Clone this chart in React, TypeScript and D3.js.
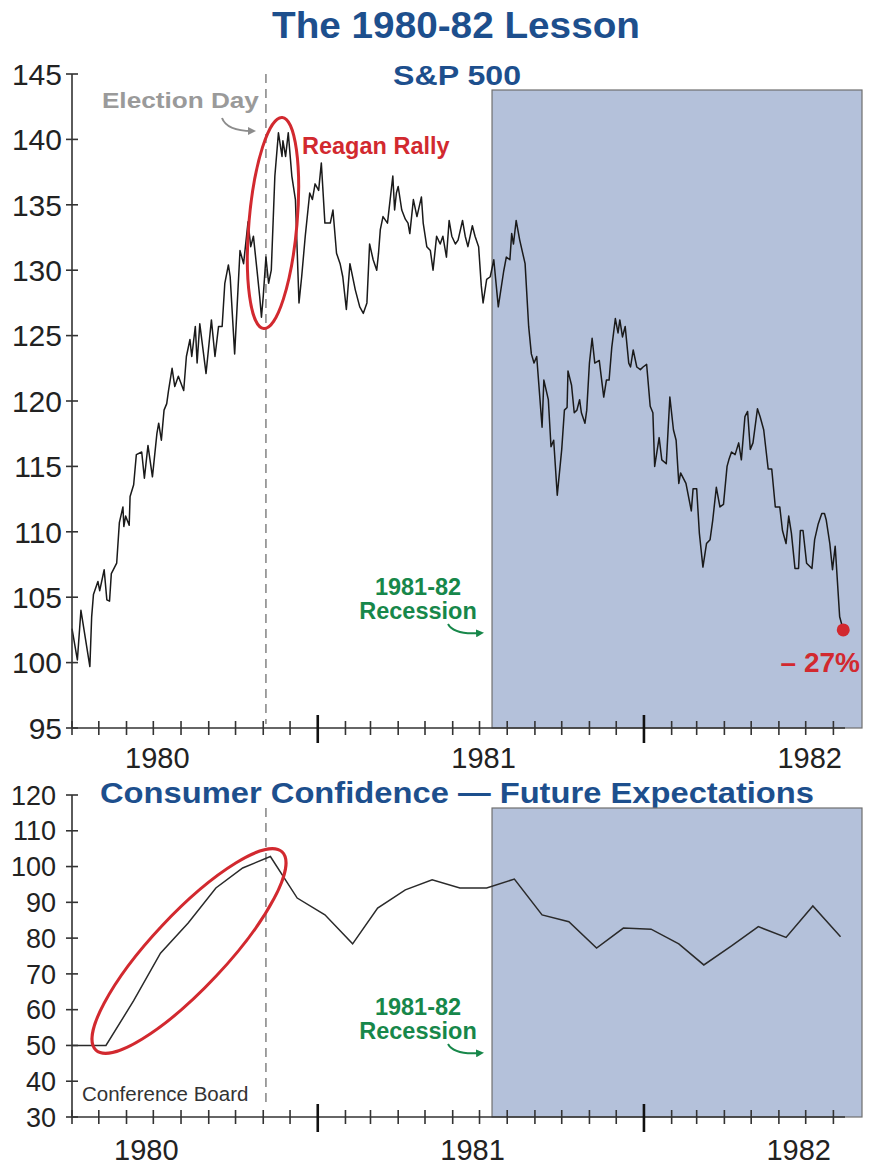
import React from 'react';
import * as d3 from 'd3';

// S&P 500 (day offset from 1 Apr 1980, index value)
const spDays = [
  0, 6, 10, 20, 22, 24, 29, 31, 36, 39, 42, 44, 50, 53, 57, 58, 60, 64, 65, 69,
  72, 78, 81, 85, 90, 95, 97, 100, 103, 106, 108, 112, 115, 119, 125, 128, 132, 134, 138, 140,
  143, 150, 156, 160, 164, 168, 171, 175, 177, 182, 188, 192, 197, 200, 203, 207, 210, 212, 214, 217,
  220, 223, 227, 231, 235, 236, 239, 242, 246, 250, 254, 257, 261, 266, 269, 272, 276, 279, 283, 289,
  292, 296, 300, 303, 307, 311, 317, 322, 326, 330, 333, 337, 341, 343, 345, 348, 353, 356, 359, 361,
  363, 365, 369, 373, 376, 378, 382, 386, 391, 393, 397, 401, 404, 408, 412, 415, 419, 422, 425, 429,
  432, 437, 440, 443, 448, 451, 455, 458, 460, 464, 468, 472, 477, 483, 486, 490, 492, 494, 497, 501,
  507, 511, 514, 517, 520, 526, 528, 533, 536, 539, 543, 548, 551, 554, 555, 559, 562, 565, 568, 570,
  574, 576, 579, 582, 585, 590, 595, 598, 601, 604, 608, 611, 613, 616, 619, 623, 625, 628, 632, 636,
  639, 643, 647, 650, 652, 657, 660, 665, 669, 673, 676, 679, 681, 687, 693, 695, 699, 702, 706, 710,
  714, 717, 721, 725, 729, 733, 735, 738, 742, 746, 749, 753, 756, 759, 762, 767, 770, 774, 779, 783,
  787, 792, 795, 799, 802, 805, 809, 813, 815, 818, 822, 828, 831, 835, 839, 842, 844, 848, 851, 854,
  859, 863,
];
const spValues = [
  102.6, 100.2, 104.0, 99.7, 103.5, 105.2, 106.2, 105.5, 107.1, 104.8, 104.7, 106.8, 107.6, 110.7, 111.9, 110.4, 111.2, 110.5, 112.7, 113.6,
  115.9, 116.1, 114.1, 116.6, 114.2, 117.5, 118.3, 117.0, 119.3, 119.8, 120.8, 122.5, 121.1, 121.9, 120.8, 123.4, 124.7, 123.4, 125.7, 122.9,
  125.9, 122.1, 126.2, 123.4, 125.7, 125.7, 129.0, 130.4, 129.5, 123.6, 131.5, 130.5, 133.7, 131.8, 132.6, 130.0, 128.0, 126.4, 128.0, 131.0,
  129.0, 130.0, 137.2, 140.5, 138.7, 139.9, 138.7, 140.5, 137.2, 135.4, 127.5, 129.5, 132.6, 135.9, 135.4, 136.6, 136.1, 138.2, 133.6, 133.6,
  134.6, 131.3, 130.5, 129.5, 127.0, 130.5, 128.5, 127.2, 126.7, 127.5, 132.0, 130.8, 130.0, 131.3, 133.1, 134.1, 133.6, 135.4, 137.2, 134.6,
  135.9, 136.4, 134.6, 133.9, 133.6, 132.8, 135.4, 134.1, 135.6, 133.6, 131.8, 131.5, 130.0, 132.6, 132.0, 132.6, 131.0, 133.8, 132.6, 132.0,
  132.3, 133.8, 132.6, 131.8, 133.4, 132.6, 131.8, 128.8, 127.5, 129.3, 129.5, 130.8, 127.2, 129.9, 131.0, 130.8, 132.8, 132.0, 133.8, 132.3,
  130.5, 125.7, 123.6, 122.9, 123.4, 118.0, 121.6, 120.1, 116.5, 117.0, 112.8, 116.3, 119.3, 119.5, 122.3, 121.2, 119.1, 119.3, 120.1, 119.1,
  118.3, 119.3, 122.9, 124.8, 122.9, 123.1, 120.3, 121.6, 121.6, 124.1, 126.3, 125.2, 126.2, 124.9, 125.7, 122.9, 122.6, 123.9, 122.6, 122.4,
  122.6, 122.8, 119.6, 119.1, 115.0, 117.2, 115.5, 115.2, 120.3, 117.8, 117.0, 113.7, 114.5, 113.7, 111.6, 113.3, 113.3, 109.9, 107.3, 109.1,
  109.4, 110.9, 113.4, 111.9, 112.1, 115.0, 115.5, 116.1, 115.9, 116.8, 115.5, 118.8, 119.2, 116.3, 116.8, 119.4, 118.8, 117.8, 114.8, 114.8,
  111.9, 111.9, 110.1, 109.1, 111.2, 109.9, 107.2, 107.2, 110.1, 110.1, 107.6, 107.2, 109.4, 110.6, 111.4, 111.4, 110.9, 109.1, 107.1, 108.9,
  103.5, 102.5,
];

// Conference Board future expectations, monthly
const ccMonths = [
  '1980-03', '1980-04', '1980-05', '1980-06', '1980-07', '1980-08', '1980-09', '1980-10', '1980-11', '1980-12',
  '1981-01', '1981-02', '1981-03', '1981-04', '1981-05', '1981-06', '1981-07', '1981-08', '1981-09', '1981-10', '1981-11', '1981-12',
  '1982-01', '1982-02', '1982-03', '1982-04', '1982-05', '1982-06', '1982-07', '1982-08',
];
const ccValues = [
  50, 50, 50, 62.5, 75.8, 84.2, 94.0, 99.6, 102.8, 91.2,
  86.5, 78.4, 88.4, 93.5, 96.3, 94.0, 94.0, 96.5, 86.5, 84.6, 77.2, 82.8,
  82.5, 78.4, 72.5, 77.8, 83.2, 80.2, 89.0, 80.4,
];

const yearLabels = ['1980', '1981', '1982'];
const spTicks = [95, 100, 105, 110, 115, 120, 125, 130, 135, 140, 145];
const ccTicks = [30, 40, 50, 60, 70, 80, 90, 100, 110, 120];

const START = new Date(1980, 3, 1);
const END = new Date(1982, 8, 2);
const AXIS_END = new Date(1982, 7, 14);
const ELECTION = new Date(1980, 10, 4);
const RECESSION = new Date(1981, 6, 15);

const FONT = 'Liberation Sans, Arial, Helvetica, sans-serif';
const BLUE = '#1d4f8d';
const RED = '#d2292f';
const GREEN = '#17874a';
const SHADE = '#b4c1da';
const AXIS = '#333';

const parseMonth = d3.timeParse('%Y-%m');

const App = () => {
  const x = d3.scaleTime().domain([START, END]).range([72, 862]);
  const yTop = d3.scaleLinear().domain([95, 145]).range([728, 74]);
  const yBot = d3.scaleLinear().domain([30, 120]).range([1117, 795]);

  const spData = spDays.map((d, i) => ({ date: d3.timeDay.offset(START, d), v: spValues[i] }));
  const ccData = ccMonths.map((m, i) => ({
    date: d3.timeDay.offset(parseMonth(m) as Date, 8),
    v: ccValues[i],
  }));

  const spLine = d3
    .line<{ date: Date; v: number }>()
    .x((d) => x(d.date))
    .y((d) => yTop(d.v));
  const ccLine = d3
    .line<{ date: Date; v: number }>()
    .x((d) => x(d.date))
    .y((d) => yBot(d.v));

  const months = d3.timeMonth.range(START, d3.timeDay.offset(AXIS_END, -5));
  const xe = x(ELECTION);
  const xr = x(RECESSION);
  const xEnd = x(END);
  const last = spData[spData.length - 1];

  // bottom x axis with monthly ticks, longer ones at January
  const xAxis = (y0: number, labelY: number, dx: number) => (
    <g>
      <line x1={x(START)} x2={x(AXIS_END)} y1={y0} y2={y0} stroke={AXIS} strokeWidth={1.6} />
      {months.map((m, i) => {
        const major = m.getMonth() === 0;
        return (
          <line
            key={i}
            x1={x(m)}
            x2={x(m)}
            y1={major ? y0 - 13 : y0 - 7}
            y2={major ? y0 + 15 : y0 + 7}
            stroke={major ? '#111' : AXIS}
            strokeWidth={major ? 2.6 : 1.6}
          />
        );
      })}
      {yearLabels.map((yr) => (
        <text
          key={yr}
          x={x(new Date(+yr, 6, 1)) + dx}
          y={labelY}
          textAnchor="middle"
          fontSize={29}
          fill="#222"
        >
          {yr}
        </text>
      ))}
    </g>
  );

  const yAxis = (
    scale: d3.ScaleLinear<number, number>,
    ticks: number[],
    fontSize: number,
    labelX: number
  ) => (
    <g>
      <line x1={72} x2={72} y1={scale(ticks[ticks.length - 1])} y2={scale(ticks[0])} stroke={AXIS} strokeWidth={1.6} />
      {ticks.map((t) => (
        <g key={t}>
          <line x1={66} x2={78} y1={scale(t)} y2={scale(t)} stroke={AXIS} strokeWidth={1.6} />
          <text x={labelX} y={scale(t)} dy="0.36em" textAnchor="end" fontSize={fontSize} fill="#222">
            {t}
          </text>
        </g>
      ))}
    </g>
  );

  const recessionLabel = (dy: number) => (
    <g>
      <text x={418} y={595 + dy} textAnchor="middle" fontSize={23.5} fontWeight="bold" fill={GREEN}>
        1981-82
      </text>
      <text x={418} y={619 + dy} textAnchor="middle" fontSize={23.5} fontWeight="bold" fill={GREEN}>
        Recession
      </text>
      <path
        d={`M 448 ${624 + dy} Q 454 ${635 + dy} 480 ${633 + dy}`}
        fill="none"
        stroke={GREEN}
        strokeWidth={2}
        markerEnd="url(#arrowGreen)"
      />
    </g>
  );

  return (
    <svg
      width={871}
      height={1165}
      style={{ position: 'absolute', left: 0, top: 0, display: 'block', background: '#fff' }}
      fontFamily={FONT}
    >
      <defs>
        <marker id="arrowGrey" viewBox="0 0 10 10" refX="5" refY="5" markerWidth="4" markerHeight="4" orient="auto">
          <path d="M0,0 L10,5 L0,10 z" fill="#8c8c8c" />
        </marker>
        <marker id="arrowGreen" viewBox="0 0 10 10" refX="5" refY="5" markerWidth="4" markerHeight="4" orient="auto">
          <path d="M0,0 L10,5 L0,10 z" fill={GREEN} />
        </marker>
        <clipPath id="clipBot">
          <rect x={72} y={780} width={800} height={340} />
        </clipPath>
      </defs>

      {/* titles */}
      <text x={456} y={38} textAnchor="middle" fontSize={36} fontWeight="bold" fill={BLUE} textLength={368} lengthAdjust="spacingAndGlyphs">
        The 1980-82 Lesson
      </text>
      <text x={457} y={85} textAnchor="middle" fontSize={27} fontWeight="bold" fill={BLUE} textLength={128} lengthAdjust="spacingAndGlyphs">
        S&amp;P 500
      </text>

      {/* ---------- top panel ---------- */}
      <rect x={xr} y={90} width={xEnd - xr} height={728 - 90} fill={SHADE} stroke="#6f6f6f" strokeWidth={1.2} />
      <line x1={xe} x2={xe} y1={74} y2={724} stroke="#8a8a8a" strokeWidth={1.6} strokeDasharray="9,6" />
      <path d={spLine(spData) || ''} fill="none" stroke="#1a1a1a" strokeWidth={1.5} strokeLinejoin="round" />
      {xAxis(728, 768, 4)}
      {yAxis(yTop, spTicks, 30, 62)}

      <text x={xe - 7} y={108} textAnchor="end" fontSize={22} fontWeight="bold" fill="#9a9a9a" textLength={157} lengthAdjust="spacingAndGlyphs">
        Election Day
      </text>
      <path d="M 222 118 Q 227 131 252 131" fill="none" stroke="#8c8c8c" strokeWidth={2} markerEnd="url(#arrowGrey)" />
      <ellipse cx={273} cy={223} rx={24} ry={106} transform="rotate(5 273 223)" fill="none" stroke={RED} strokeWidth={3} />
      <text x={302} y={154} fontSize={23.5} fontWeight="bold" fill={RED}>
        Reagan Rally
      </text>
      {recessionLabel(0)}
      <circle cx={x(last.date)} cy={yTop(last.v)} r={6.5} fill={RED} />
      <text x={860} y={672} textAnchor="end" fontSize={28} fontWeight="bold" fill={RED}>
        – 27%
      </text>

      {/* ---------- bottom panel ---------- */}
      <text x={457} y={803} textAnchor="middle" fontSize={29} fontWeight="bold" fill={BLUE} textLength={714} lengthAdjust="spacingAndGlyphs">
        Consumer Confidence — Future Expectations
      </text>
      <rect x={xr} y={808} width={xEnd - xr} height={1117 - 808} fill={SHADE} stroke="#6f6f6f" strokeWidth={1.2} />
      <line x1={xe} x2={xe} y1={808} y2={1106} stroke="#8a8a8a" strokeWidth={1.6} strokeDasharray="9,6" />
      <path d={ccLine(ccData) || ''} clipPath="url(#clipBot)" fill="none" stroke="#2a2a2a" strokeWidth={1.5} />
      {xAxis(1117, 1160, -7)}
      {yAxis(yBot, ccTicks, 27, 56)}

      <ellipse cx={189} cy={951} rx={136} ry={37} transform="rotate(-46.8 189 951)" fill="none" stroke={RED} strokeWidth={3} />
      <text x={82} y={1101} fontSize={20.5} fill="#333">
        Conference Board
      </text>
      {recessionLabel(420)}
    </svg>
  );
};

export default App;
